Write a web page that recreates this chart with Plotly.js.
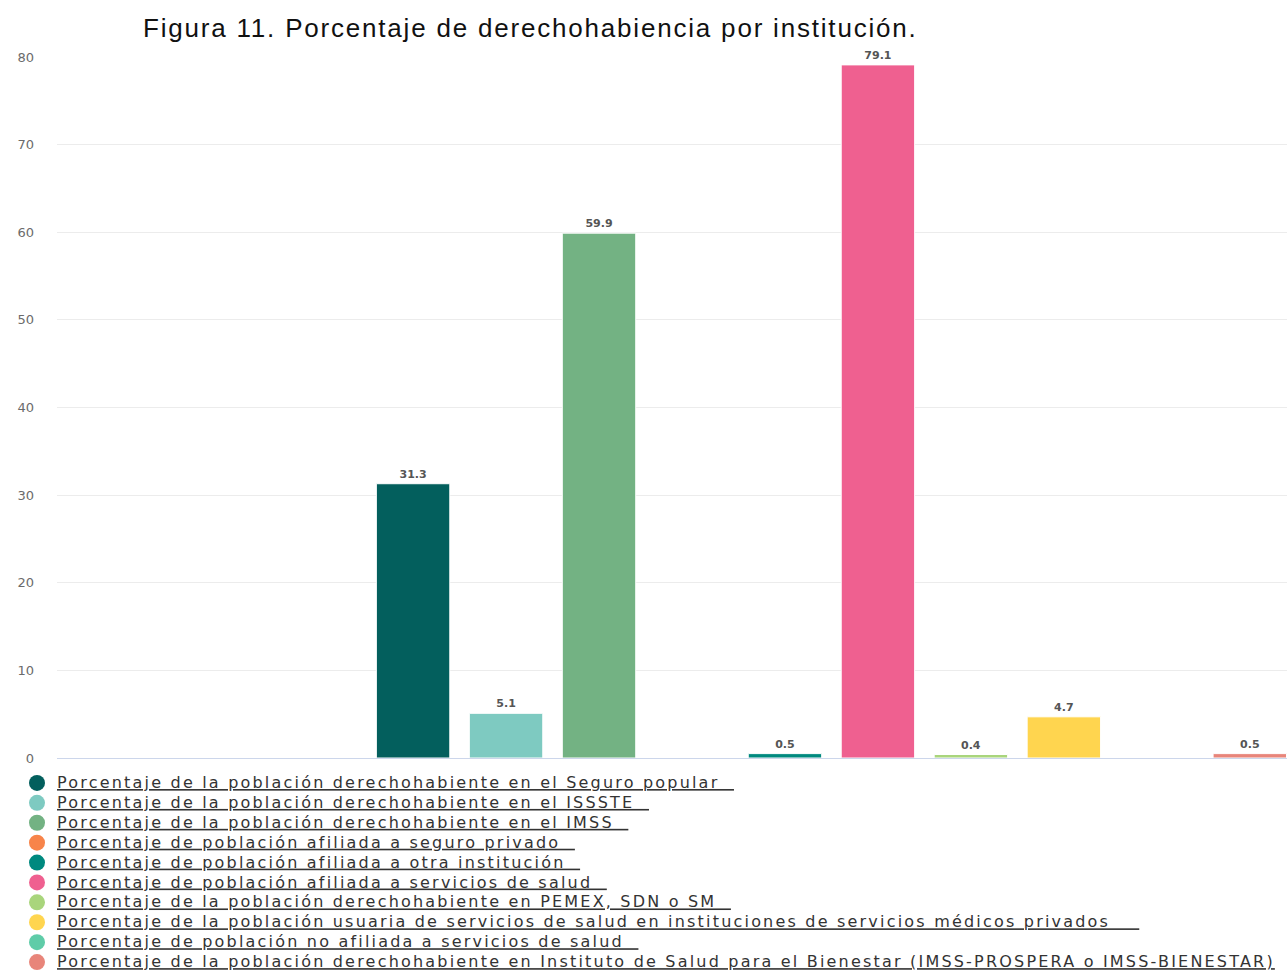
<!DOCTYPE html>
<html>
<head>
<meta charset="utf-8">
<script src="https://cdn.plot.ly/plotly-3.0.1.min.js"></script>
<style>
html,body{margin:0;padding:0;background:#fff;}
#chart{width:1287px;height:973px;}
.legendtext{font-size:16px !important;letter-spacing:2.2px;}
.gtitle{letter-spacing:1.8px;}
</style>
</head>
<body>
<div id="chart"></div>
<script>
const seriesNames = [
  "Porcentaje de la población derechohabiente en el Seguro popular",
  "Porcentaje de la población derechohabiente en el ISSSTE",
  "Porcentaje de la población derechohabiente en el IMSS",
  "Porcentaje de población afiliada a seguro privado",
  "Porcentaje de población afiliada a otra institución",
  "Porcentaje de población afiliada a servicios de salud",
  "Porcentaje de la población derechohabiente en PEMEX, SDN o SM",
  "Porcentaje de la población usuaria de servicios de salud en instituciones de servicios médicos privados",
  "Porcentaje de población no afiliada a servicios de salud",
  "Porcentaje de la población derechohabiente en Instituto de Salud para el Bienestar (IMSS-PROSPERA o IMSS-BIENESTAR)"
];
const seriesValues = [31.3, 5.1, 59.9, null, 0.5, 79.1, 0.4, 4.7, null, 0.5];
const seriesColors = ["#035f5d", "#7ecac1", "#73b283", "#f7844a", "#00897f", "#ef6090", "#a9d57c", "#ffd54f", "#5fcca8", "#e8857a"];
const trailingPad = [2, 2, 2, 2, 2, 2, 2, 4, 2, 0];
const yTicks = [0, 10, 20, 30, 40, 50, 60, 70, 80];

const traces = [];
seriesNames.forEach((name, i) => {
  traces.push({
    type: 'bar',
    x: [i + 1],
    y: [seriesValues[i]],
    width: 0.79,
    marker: {color: seriesColors[i], line: {color: '#ffffff', width: 1}},
    text: seriesValues[i] === null ? [''] : [String(seriesValues[i])],
    textposition: 'outside',
    cliponaxis: false,
    textfont: {family: 'DejaVu Sans', size: 11, color: '#555555', weight: 'bold'},
    showlegend: false,
    hoverinfo: 'skip'
  });
});
seriesNames.forEach((name, i) => {
  traces.push({
    type: 'scatter',
    mode: 'markers',
    x: [null],
    y: [null],
    name: '<u>' + name + '\u00a0'.repeat(trailingPad[i]) + '</u>',
    marker: {color: seriesColors[i], size: 16, symbol: 'circle'},
    showlegend: true
  });
});

const layout = {
  width: 1287,
  height: 973,
  margin: {l: 57, r: 0, t: 57, b: 215, autoexpand: false},
  paper_bgcolor: '#ffffff',
  plot_bgcolor: '#ffffff',
  bargap: 0,
  title: {
    text: 'Figura 11. Porcentaje de derechohabiencia por institución.',
    font: {family: 'Liberation Sans', size: 26, color: '#111111'},
    x: 143 / 1287, xref: 'container', xanchor: 'left',
    y: 1 - 28 / 973, yref: 'container', yanchor: 'middle'
  },
  xaxis: {
    range: [-2.83, 10.4],
    showticklabels: false,
    showgrid: false,
    zeroline: false,
    showline: true,
    linecolor: '#ccd6eb',
    linewidth: 1,
    ticks: ''
  },
  yaxis: {
    range: [0, 80],
    tickvals: yTicks,
    ticktext: yTicks.map(String),
    showgrid: true,
    gridcolor: '#ececec',
    gridwidth: 1,
    zeroline: false,
    ticks: '',
    ticklabelstandoff: 22,
    tickfont: {family: 'DejaVu Sans', size: 13, color: '#6b6b6b'}
  },
  legend: {
    x: 17 / 1287, xref: 'container', xanchor: 'left',
    y: 1 - 768 / 973, yref: 'container', yanchor: 'top',
    font: {family: 'DejaVu Sans', size: 13, color: '#333333'},
    bgcolor: 'rgba(0,0,0,0)',
    tracegroupgap: 0
  },
  showlegend: true
};

Plotly.newPlot('chart', traces, layout, {displayModeBar: false, staticPlot: true});
</script>
</body>
</html>
